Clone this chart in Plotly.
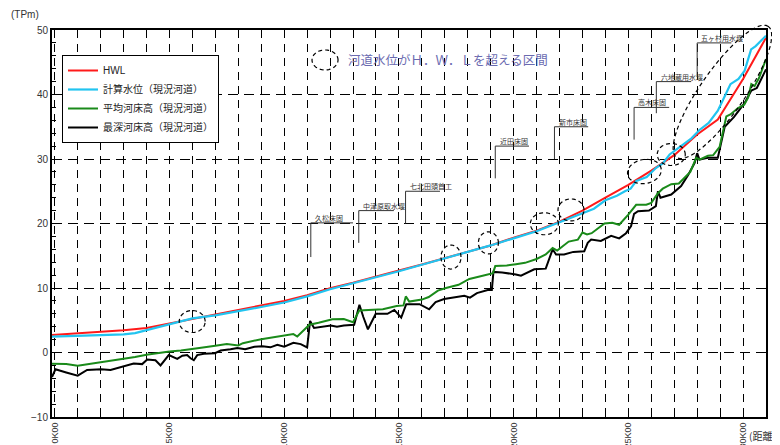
import numpy as np
import plotly.graph_objects as go

# longitudinal profile: distance (km) vs elevation (TPm)
hwl_km = [-0.12, 1, 2, 3, 4, 5, 6, 7, 8, 9, 10, 11, 12, 13, 14, 15, 16, 17, 18, 19,
          20, 21, 22, 23, 24, 25, 26, 27, 28, 28.9, 30, 31.0]
hwl_el = [2.7, 2.95, 3.2, 3.45, 3.8, 4.5, 5.3, 5.9, 6.6, 7.3, 8.0, 8.9, 9.95, 10.8, 11.8,
          12.7, 13.65, 14.6, 15.6, 16.6, 17.8, 18.9, 20.3, 22.0, 24.0, 26.0, 28.2, 30.6,
          33.8, 36.1, 42.4, 48.8]

calc_km = [-0.12, 1, 2, 3, 3.5, 4, 5, 6, 7, 8, 9, 10, 11, 12, 13, 14, 15, 16, 17, 17.5,
           18, 19, 20, 21, 21.5, 22, 22.5, 23, 23.5, 24, 24.5, 24.85, 25.1, 25.35, 25.8,
           26.2, 26.5, 26.8, 27.2, 27.75, 28.1, 28.5, 28.9, 29.25, 29.45, 29.8, 30.07,
           30.35, 30.55, 31.0]
calc_el = [2.45, 2.6, 2.7, 2.8, 3.0, 3.45, 4.35, 5.3, 5.75, 6.35, 7.05, 7.75, 8.7, 9.8,
           10.7, 11.65, 12.6, 13.6, 14.6, 15.0, 15.5, 16.6, 17.7, 18.8, 19.5, 20.2, 21.0,
           21.6, 22.3, 23.6, 24.3, 25.0, 25.4, 26.6, 27.2, 28.6, 29.3, 30.7, 31.7, 33.2,
           34.5, 35.6, 37.5, 40.2, 41.6, 42.4, 43.7, 47.0, 47.5, 49.1]

avg_km = [-0.12, 0.5, 1.0, 1.5, 2.0, 2.5, 3.0, 3.5, 4.0, 4.5, 5.0, 5.5, 6.0, 6.3, 7.0,
          7.5, 8.0, 8.2, 9.0, 9.5, 9.9, 10.4, 10.57, 11.1, 11.5, 12.1, 12.6, 13.0, 13.27,
          14.3, 14.9, 15.2, 15.3, 15.45, 16.0, 16.3, 16.7, 17.05, 17.6, 18.07, 18.65,
          19.1, 19.2, 19.7, 20.1, 20.5, 21.0, 21.4, 21.7, 21.9, 22.4, 22.8, 23.0, 23.2,
          23.4, 23.96, 24.3, 24.6, 24.98, 25.34, 25.78, 26.0, 26.29, 26.5, 26.87, 27.2,
          27.45, 27.7, 27.96, 28.1, 28.47, 28.7, 28.98, 29.27, 29.45, 29.78, 30.05, 30.22,
          30.36, 30.5, 30.7, 31.0]
avg_el = [-1.75, -1.8, -2.06, -1.8, -1.55, -1.3, -1.0, -0.7, -0.36, -0.1, 0.16, 0.3, 0.5,
          0.7, 1.04, 1.3, 1.1, 1.45, 2.07, 2.38, 2.6, 2.85, 2.48, 4.3, 4.6, 5.15, 5.2, 4.7,
          6.5, 6.7, 7.2, 7.3, 8.7, 7.9, 8.2, 8.6, 9.6, 10.0, 10.5, 11.4, 11.9, 12.3, 13.4,
          13.5, 13.7, 13.9, 14.5, 15.2, 16.2, 15.8, 17.2, 17.5, 18.6, 18.3, 18.5, 20.0, 20.1,
          19.8, 21.3, 22.9, 22.9, 23.2, 24.7, 25.4, 26.1, 26.2, 27.1, 28.0, 30.2, 29.9, 30.5,
          30.6, 31.9, 36.6, 36.9, 37.9, 38.4, 39.5, 41.6, 41.3, 42.6, 45.5]

deep_km = [-0.12, 0.03, 0.5, 1.0, 1.41, 2.02, 2.43, 3.0, 3.44, 3.81, 4.03, 4.39, 4.61,
           4.97, 5.19, 5.34, 5.56, 5.77, 5.92, 6.06, 6.21, 6.5, 6.98, 7.23, 7.66, 7.96, 8.3,
           8.7, 9.05, 9.4, 9.7, 10.0, 10.4, 10.72, 11.0, 11.13, 11.3, 12.03, 12.3, 12.6,
           13.05, 13.28, 13.45, 13.65, 13.99, 14.5, 14.8, 15.1, 15.32, 15.9, 16.32, 16.6,
           16.97, 17.4, 17.85, 18.1, 18.4, 18.87, 19.05, 19.12, 19.5, 20.1, 20.32, 20.9,
           21.4, 21.7, 21.85, 22.2, 22.6, 23.08, 23.23, 23.38, 23.8, 24.25, 24.6, 24.9,
           25.12, 25.25, 25.42, 25.9, 26.2, 26.29, 26.4, 26.87, 27.3, 27.6, 27.89, 28.0,
           28.1, 28.47, 28.9, 29.2, 29.6, 30.07, 30.36, 30.6, 31.0]
deep_el = [-3.8, -2.6, -3.1, -3.6, -2.7, -2.6, -2.7, -2.2, -1.7, -1.8, -1.1, -1.2, -2.0,
           -0.4, -0.8, -1.0, -0.5, -0.4, -0.9, -1.2, -0.4, -0.2, -0.1, 0.3, 0.5, 0.7, 0.5,
           0.9, 0.95, 0.8, 1.2, 0.9, 1.5, 1.3, 0.8, 4.9, 3.8, 4.2, 4.0, 4.2, 4.3, 7.4, 5.5,
           3.6, 6.0, 6.0, 6.6, 5.4, 7.5, 7.5, 6.7, 7.8, 8.3, 8.6, 8.8, 8.5, 9.2, 9.7, 9.7,
           12.5, 12.4, 12.1, 11.9, 12.9, 13.0, 16.0, 15.2, 15.2, 15.6, 15.7, 17.0, 17.5,
           17.3, 18.1, 17.7, 18.5, 19.6, 21.5, 21.9, 22.0, 22.7, 25.0, 24.0, 24.5, 25.8,
           27.5, 29.4, 30.9, 29.9, 30.2, 30.2, 35.0, 36.5, 38.7, 40.6, 41.0, 43.9]

tick_km = [0, 5, 10, 15, 20, 25, 30]
tick_txt = ["0K00", "5K00", "10K00", "15K00", "20K00", "25K00", "30K00"]

# facilities (weirs / bed girdles) with leader lines
fac_name = ["久松床固", "中津原取水堰", "七北田頭首工", "近田床固", "新市床固",
            "高木床固", "六地蔵用水堰", "五ヶ村用水堰"]
fac_km = [11.16, 13.25, 15.29, 19.2, 21.78, 25.25, 26.22, 28.0]
fac_lo = [14.8, 17.0, 20.0, 27.0, 30.0, 33.0, 37.1, 42.8]
fac_hi = [20.1, 22.0, 25.0, 32.0, 35.0, 38.0, 42.0, 48.0]
fac_end = [13.0, 14.78, 16.79, 20.67, 23.25, 26.78, 27.74, 29.49]

# sections where water level exceeds HWL (center km, el, radii in px, angle)
zone_km = [5.99, 17.27, 18.9, 21.34, 22.5, 25.7, 26.87, 29.1, 11.78]
zone_el = [4.8, 14.8, 17.0, 19.96, 22.1, 28.06, 30.7, 40.4, 45.35]
zone_rx = [13, 10, 10, 14, 13, 17, 14, 80, 13]
zone_ry = [11, 12, 11, 11, 11, 12, 11, 22, 10]
zone_ang = [0, 0, 0, 0, 0, 10, 0, 55, 0]

X0, X1 = -0.12, 31.0
Y0, Y1 = -10, 50
OFF = 8  # page body margin
W, H = 780 - OFF, 445 - OFF
L, R, T, B = 52 - OFF, 14, 30 - OFF, 28
pw, ph = W - L - R, H - T - B


def ellipse_path(cx, cy, rx, ry, ang):
    t = np.linspace(0, 2 * np.pi, 60)
    a = np.radians(ang)
    dx = rx * np.cos(t) * np.cos(a) - ry * np.sin(t) * np.sin(a)
    dy = rx * np.cos(t) * np.sin(a) + ry * np.sin(t) * np.cos(a)
    px = (cx - X0) / (X1 - X0) + dx / pw
    py = (cy - Y0) / (Y1 - Y0) + dy / ph
    pts = ["%.4f,%.4f" % (u, v) for u, v in zip(px, py)]
    return "M " + " L ".join(pts) + " Z"


def page_x(x):
    return (x - OFF - L) / pw


def page_y(y):
    return (H - B - (y - OFF)) / ph


fig = go.Figure()
fig.add_trace(go.Scatter(x=deep_km, y=deep_el, mode="lines", name="最深河床高（現況河道）",
                         line=dict(color="black", width=2), legendrank=4))
fig.add_trace(go.Scatter(x=avg_km, y=avg_el, mode="lines", name="平均河床高（現況河道）",
                         line=dict(color="#1a8a1a", width=2), legendrank=3))
fig.add_trace(go.Scatter(x=hwl_km, y=hwl_el, mode="lines", name="HWL",
                         line=dict(color="#ff1a1a", width=2), legendrank=1))
fig.add_trace(go.Scatter(x=calc_km, y=calc_el, mode="lines", name="計算水位（現況河道）",
                         line=dict(color="#22c4f0", width=2.2), legendrank=2))

shapes = []
annots = []
for n, k, lo, hi, e in zip(fac_name, fac_km, fac_lo, fac_hi, fac_end):
    shapes.append(dict(type="line", xref="x", yref="y", x0=k, x1=k, y0=lo, y1=hi,
                       line=dict(color="#333", width=1)))
    shapes.append(dict(type="line", xref="x", yref="y", x0=k, x1=e, y0=hi, y1=hi,
                       line=dict(color="#333", width=1)))
    annots.append(dict(x=k + 0.1, y=hi, xref="x", yref="y", text=n, showarrow=False,
                       xanchor="left", yanchor="bottom", yshift=-2,
                       font=dict(size=7, color="#333", family="Noto Sans CJK JP")))

for cx, cy, rx, ry, a in zip(zone_km, zone_el, zone_rx, zone_ry, zone_ang):
    shapes.append(dict(type="path", xref="paper", yref="paper", path=ellipse_path(cx, cy, rx, ry, a),
                       line=dict(color="black", width=1.2, dash="4px,3px")))

annots.append(dict(x=12.7, y=45.35, xref="x", yref="y", text="河道水位がＨ．Ｗ．Ｌを超える区間",
                   showarrow=False, xanchor="left", yanchor="middle",
                   font=dict(size=12.5, color="#6a6ab0", family="Noto Sans CJK JP")))
annots.append(dict(x=page_x(9), y=page_y(15), xref="paper", yref="paper", text="(TPm)",
                   showarrow=False, xanchor="left", yanchor="middle",
                   font=dict(size=10, color="#333")))
annots.append(dict(x=page_x(747), y=page_y(435), xref="paper", yref="paper",
                   text="(距離標", showarrow=False, xanchor="left", yanchor="middle",
                   font=dict(size=10, color="#333", family="Noto Sans CJK JP")))

fig.update_layout(
    width=W, height=H,
    margin=dict(l=L, r=R, t=T, b=B, autoexpand=False),
    paper_bgcolor="white", plot_bgcolor="white",
    font=dict(family="Liberation Sans, Noto Sans CJK JP", size=10, color="#333"),
    shapes=shapes, annotations=annots,
    legend=dict(x=page_x(62), y=page_y(55), xanchor="left", yanchor="top", bgcolor="white",
                bordercolor="black", borderwidth=1, font=dict(size=10, color="#222",
                family="Liberation Sans, Noto Sans CJK JP"), itemwidth=30, traceorder="normal"),
)
fig.update_xaxes(range=[X0, X1], tickmode="array", tickvals=tick_km, ticktext=tick_txt,
                 tickangle=-90, tickfont=dict(size=9), showline=True, linecolor="black",
                 linewidth=2, mirror=True, ticks="inside", ticklen=4, tickcolor="black",
                 showgrid=True, gridcolor="black", gridwidth=1, griddash="8px,6px",
                 zeroline=False, automargin=False,
                 minor=dict(dtick=1, tick0=0, ticks="inside", ticklen=4, tickcolor="black",
                            showgrid=True, gridcolor="black", gridwidth=1, griddash="8px,6px"))
fig.update_yaxes(range=[Y0, Y1], dtick=10, showline=True, linecolor="black", linewidth=2,
                 mirror=True, ticks="", showgrid=True, gridcolor="black", gridwidth=1,
                 griddash="10px,6px", zeroline=False, tickfont=dict(size=10), automargin=False,
                 minor=dict(dtick=2, ticks="inside", ticklen=4, tickcolor="black", showgrid=False))

fig.write_html("out.html")
